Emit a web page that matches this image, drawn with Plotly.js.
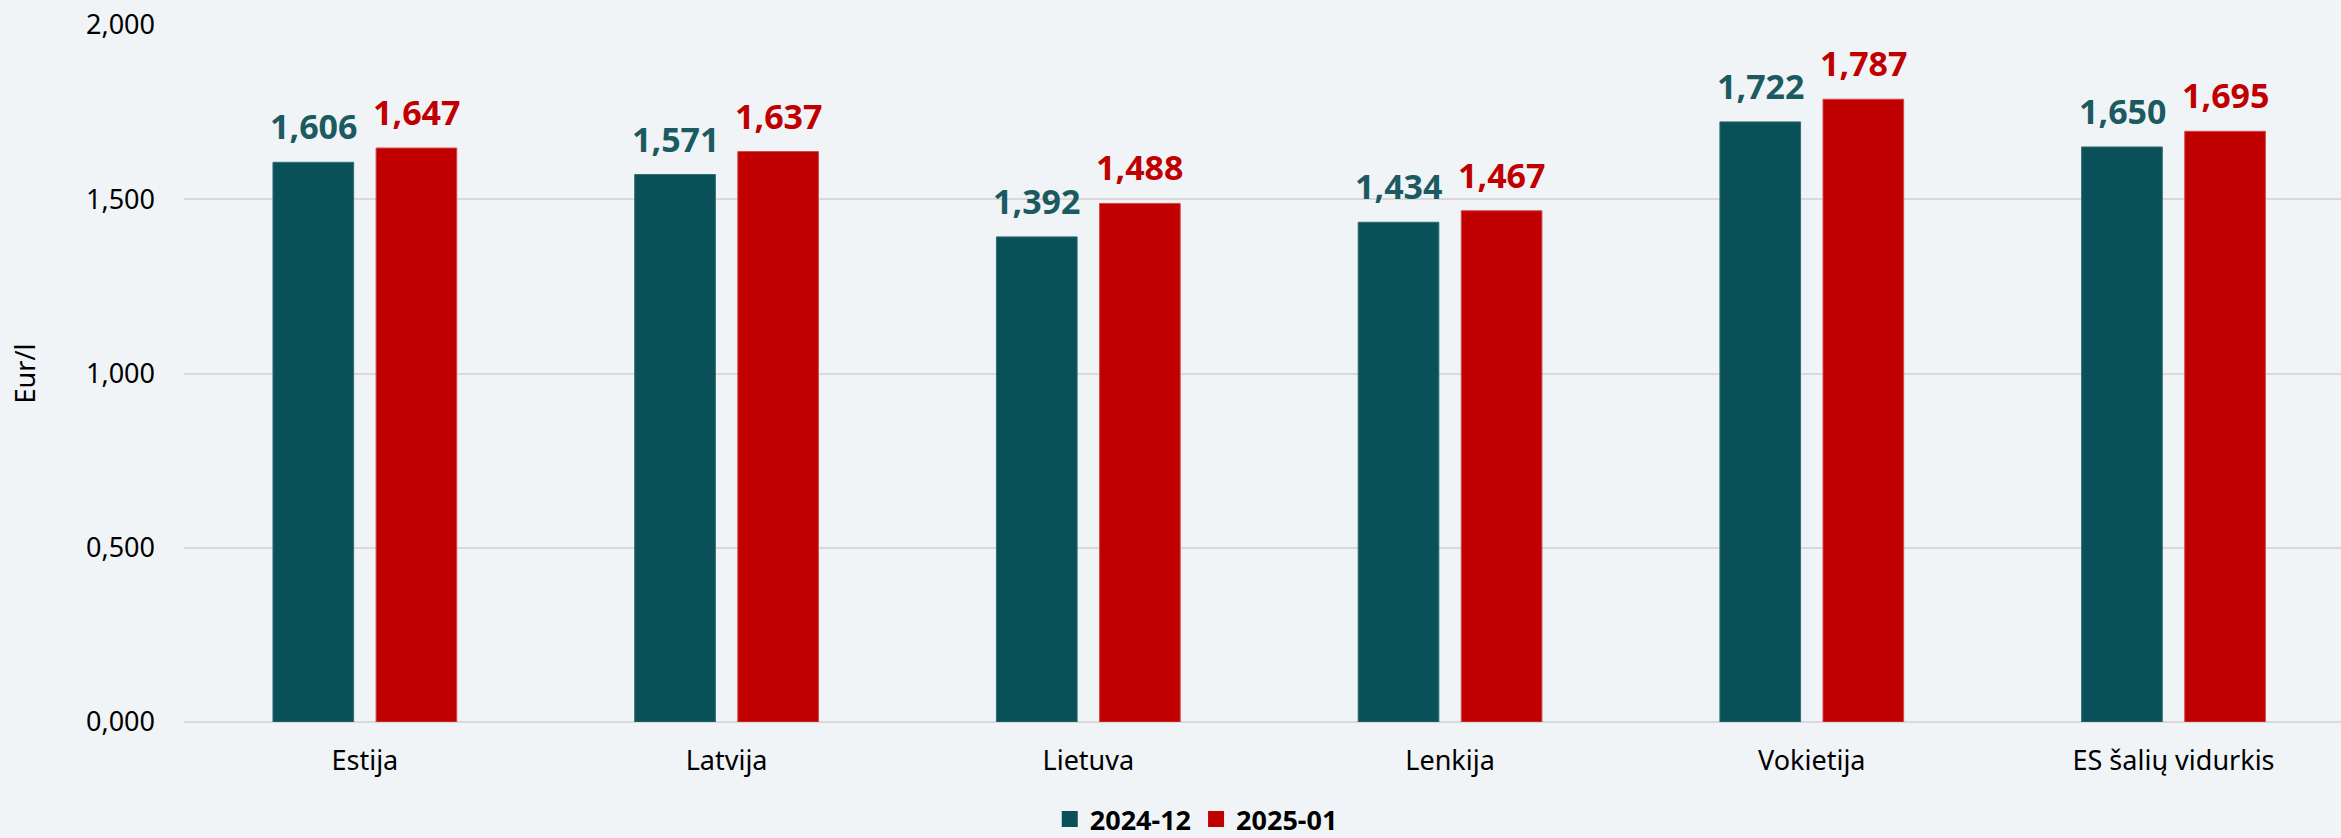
<!DOCTYPE html>
<html>
<head>
<meta charset="utf-8">
<script src="https://cdn.plot.ly/plotly-3.0.1.min.js"></script>
<style>html,body{margin:0;padding:0;background:#F0F4F7;}</style>
</head>
<body>
<div id="chart" style="width:2341px;height:838px;"></div>
<script>
const categories = ["Estija", "Latvija", "Lietuva", "Lenkija", "Vokietija", "ES šalių vidurkis"];
const seriesNames = ["2024-12", "2025-01"];
const values2412 = [1.606, 1.571, 1.392, 1.434, 1.722, 1.650];
const values2501 = [1.647, 1.637, 1.488, 1.467, 1.787, 1.695];
const yTicks = [0, 0.5, 1.0, 1.5, 2.0];

const colTeal = "#0A5058";
const colRed = "#C00000";
const labTeal = "#1A5A60";
const font = "Noto Sans, Open Sans, sans-serif";

const traces = [
  {type: "bar", name: seriesNames[0], x: categories, y: values2412, showlegend: false,
   marker: {color: colTeal, line: {color: "#2E6E74", width: 1}}, hoverinfo: "skip"},
  {type: "bar", name: seriesNames[1], x: categories, y: values2501, showlegend: false,
   marker: {color: colRed, line: {color: "#D44A4A", width: 1}}, hoverinfo: "skip"},
  {type: "scatter", mode: "markers", name: seriesNames[0], x: [null], y: [null],
   marker: {symbol: "square", size: 18, color: colTeal}, hoverinfo: "skip"},
  {type: "scatter", mode: "markers", name: seriesNames[1], x: [null], y: [null],
   marker: {symbol: "square", size: 18, color: colRed}, hoverinfo: "skip"}
];

const shift = 51.5;
const annotations = [];
categories.forEach((c, i) => {
  annotations.push({x: c, y: values2412[i], xref: "x", yref: "y", text: values2412[i].toFixed(3).replace(".", ","),
    showarrow: false, yanchor: "bottom", xshift: -shift, yshift: 11,
    font: {family: font, size: 34, color: labTeal, weight: 700}});
  annotations.push({x: c, y: values2501[i], xref: "x", yref: "y", text: values2501[i].toFixed(3).replace(".", ","),
    showarrow: false, yanchor: "bottom", xshift: shift, yshift: 11,
    font: {family: font, size: 34, color: colRed, weight: 700}});
});

const layout = {
  width: 2341, height: 838,
  paper_bgcolor: "#F0F4F7", plot_bgcolor: "#F0F4F7",
  margin: {l: 184, r: 0, t: 25, b: 116},
  separators: ",.",
  barmode: "group", bargap: 0.43, bargroupgap: 0.2175,
  font: {family: font, size: 27, color: "#000"},
  xaxis: {type: "category", range: [-0.5, 5.463], showgrid: false, zeroline: false, showline: false, automargin: false,
    ticks: "", ticklabelstandoff: 20, tickfont: {family: font, size: 27, color: "#000"}},
  yaxis: {range: [0, 2.0], tickvals: yTicks, tickformat: ".3f", showgrid: true, gridcolor: "#D9D9D9", gridwidth: 2,
    zeroline: true, zerolinecolor: "#D9D9D9", zerolinewidth: 2, showline: false, ticks: "", ticklabelstandoff: 28,
    automargin: false,
    tickfont: {family: font, size: 27, color: "#000"},
    title: {text: "Eur/l", standoff: 42, font: {family: font, size: 27, color: "#000"}}},
  showlegend: true,
  legend: {orientation: "h", xref: "container", yref: "container", x: 0.511, xanchor: "center", y: 0.022, yanchor: "middle",
    font: {family: font, size: 27, color: "#000", weight: 700}, bgcolor: "rgba(0,0,0,0)", itemclick: false,
    itemwidth: 30, tracegroupgap: 0},
  annotations: annotations
};

Plotly.newPlot("chart", traces, layout, {displayModeBar: false, staticPlot: true});
</script>
</body>
</html>
